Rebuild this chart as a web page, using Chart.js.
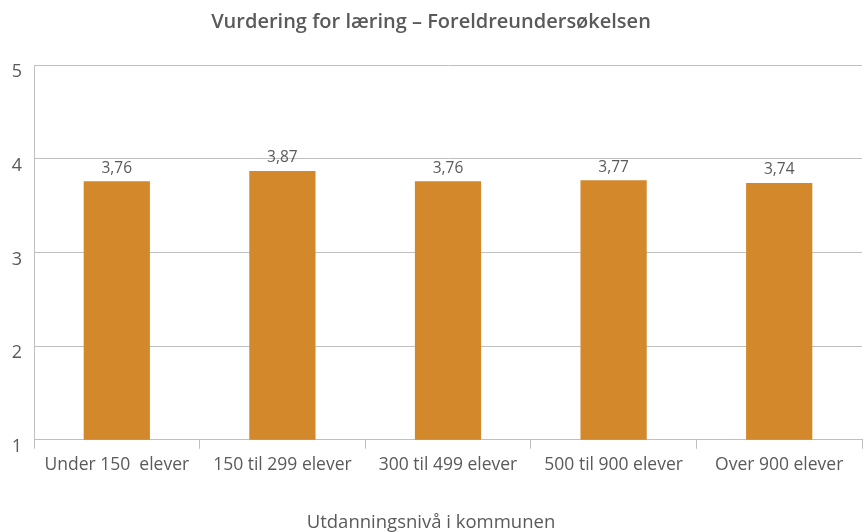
<!DOCTYPE html>
<html>
<head>
<meta charset="utf-8">
<script src="https://cdn.jsdelivr.net/npm/chart.js@4"></script>
<style>
  html, body { margin: 0; padding: 0; background: #fff; }
  #wrap { width: 864px; height: 532px; }
</style>
</head>
<body>
<div id="wrap"><canvas id="chart" width="864" height="532"></canvas></div>
<script>
const categories = ["Under 150  elever", "150 til 299 elever", "300 til 499 elever", "500 til 900 elever", "Over 900 elever"];
const values = [3.76, 3.87, 3.76, 3.77, 3.74];
const yTicks = [1, 2, 3, 4, 5];

const textColor = "#5a5a5a";
const gridColor = "#c0c0c0";

// draws the value above each bar, with a decimal comma
const valueLabels = {
  id: "valueLabels",
  afterDatasetsDraw(chart) {
    const ctx = chart.ctx;
    const meta = chart.getDatasetMeta(0);
    ctx.save();
    ctx.font = "15.5px 'Open Sans'";
    ctx.fillStyle = textColor;
    ctx.textAlign = "center";
    ctx.textBaseline = "middle";
    meta.data.forEach((bar, i) => {
      const txt = values[i].toFixed(2).replace(".", ",");
      ctx.fillText(txt, bar.x, bar.y - 13);
    });
    ctx.restore();
  }
};

const config = {
  type: "bar",
  data: {
    labels: categories,
    datasets: [{
      data: values,
      backgroundColor: "#d2882b",
      barPercentage: 0.4,
      categoryPercentage: 1
    }]
  },
  options: {
    responsive: false,
    animation: false,
    layout: { padding: { left: 0, right: 2, top: 0, bottom: 0 } },
    plugins: {
      legend: { display: false },
      tooltip: { enabled: false },
      title: {
        display: true,
        text: "Vurdering for læring – Foreldreundersøkelsen",
        color: textColor,
        font: { family: "'Open Sans'", size: 20, weight: "600", lineHeight: 1.2 },
        padding: { top: 10, bottom: 31 }
      },
      subtitle: {
        display: true,
        position: "bottom",
        text: "Utdanningsnivå i kommunen",
        color: textColor,
        font: { family: "'Open Sans'", size: 18.5, lineHeight: 1.2 },
        padding: { top: 30, bottom: -2 }
      }
    },
    scales: {
      x: {
        grid: {
          drawOnChartArea: false,
          color: gridColor,
          tickLength: 9,
          offset: true
        },
        border: { color: gridColor, width: 1 },
        ticks: {
          color: textColor,
          font: { family: "'Open Sans'", size: 17.5, lineHeight: 1.2 },
          padding: 6,
          maxRotation: 0
        }
      },
      y: {
        min: 1,
        max: 5,
        afterFit(scale) { scale.width = 34; },
        afterBuildTicks(scale) { scale.ticks = yTicks.map(v => ({ value: v })); },
        grid: { color: gridColor, drawTicks: false },
        border: { color: gridColor, width: 1 },
        ticks: {
          color: textColor,
          font: { family: "'Open Sans'", size: 18 },
          padding: 12,
          labelOffset: 7
        }
      }
    }
  },
  plugins: [valueLabels]
};

new Chart(document.getElementById("chart").getContext("2d"), config);
</script>
</body>
</html>
